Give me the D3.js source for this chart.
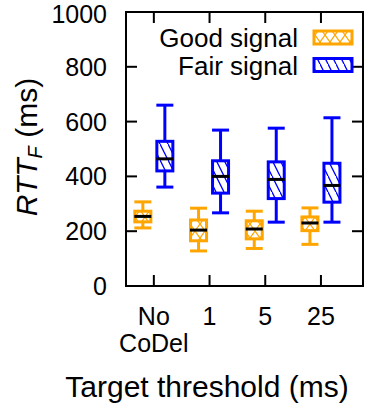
<!DOCTYPE html>
<html>
<head>
<meta charset="utf-8">
<script src="https://cdn.jsdelivr.net/npm/d3@7"></script>
<style>
  html, body { margin: 0; padding: 0; background: #fff; }
  svg { display: block; font-family: "Liberation Sans", Arial, Helvetica, sans-serif; }
</style>
</head>
<body>
<svg id="chart" width="365" height="410"></svg>
<script>
// Categories (CoDel target threshold) and box-plot statistics in ms
const categories = ["No CoDel", "1", "5", "25"];

const goodMin    = [212, 128, 137, 152];
const goodQ1     = [234, 165, 172, 202];
const goodMedian = [254, 204, 208, 230];
const goodQ3     = [273, 241, 238, 252];
const goodMax    = [307, 284, 273, 285];

const fairMin    = [361, 267, 233, 233];
const fairQ1     = [420, 339, 319, 306];
const fairMedian = [464, 400, 389, 367];
const fairQ3     = [528, 457, 453, 448];
const fairMax    = [660, 569, 576, 614];

const yTicks = [0, 200, 400, 600, 800, 1000];

const seriesNames = ["Good signal", "Fair signal"];
const seriesColors = ["#FFA500", "#0000FF"];

const svg = d3.select("#chart");
const plot = { left: 126, right: 363, top: 12, bottom: 286 };

const x = d3.scaleLinear().domain([-0.5, 3.755]).range([plot.left, plot.right]);
const y = d3.scaleLinear().domain([0, 1000]).range([plot.bottom, plot.top]);

// Fill patterns: crosshatch for good signal, back-diagonal hatch for fair signal
const defs = svg.append("defs");
const cross = defs.append("pattern")
  .attr("id", "pat-good").attr("patternUnits", "userSpaceOnUse")
  .attr("width", 10).attr("height", 14);
cross.append("rect").attr("width", 10).attr("height", 14).attr("fill", "#fff");
cross.append("path").attr("d", "M0,0L10,14M10,0L0,14")
  .attr("stroke", seriesColors[0]).attr("stroke-width", 1.3).attr("fill", "none");

const hatch = defs.append("pattern")
  .attr("id", "pat-fair").attr("patternUnits", "userSpaceOnUse")
  .attr("width", 8).attr("height", 16);
hatch.append("rect").attr("width", 8).attr("height", 16).attr("fill", "#fff");
hatch.append("path").attr("d", "M0,0L8,16M-4,8L0,16M4,-8L8,0")
  .attr("stroke", seriesColors[1]).attr("stroke-width", 1.3).attr("fill", "none");

const series = [
  { name: seriesNames[0], color: seriesColors[0], pat: "url(#pat-good)", offset: -11,
    min: goodMin, q1: goodQ1, med: goodMedian, q3: goodQ3, max: goodMax },
  { name: seriesNames[1], color: seriesColors[1], pat: "url(#pat-fair)", offset: 11,
    min: fairMin, q1: fairQ1, med: fairMedian, q3: fairQ3, max: fairMax }
];

const boxW = 16, capW = 17;

series.forEach(s => {
  const g = svg.append("g");
  categories.forEach((c, i) => {
    const cx = x(i) + s.offset;
    // whiskers: from box edges out to the extremes
    g.append("line").attr("x1", cx).attr("x2", cx).attr("y1", y(s.q3[i])).attr("y2", y(s.max[i]))
      .attr("stroke", s.color).attr("stroke-width", 3);
    g.append("line").attr("x1", cx).attr("x2", cx).attr("y1", y(s.q1[i])).attr("y2", y(s.min[i]))
      .attr("stroke", s.color).attr("stroke-width", 3);
    // whisker caps
    [s.max[i], s.min[i]].forEach(v => {
      g.append("line").attr("x1", cx - capW / 2).attr("x2", cx + capW / 2)
        .attr("y1", y(v)).attr("y2", y(v))
        .attr("stroke", s.color).attr("stroke-width", 3);
    });
    // interquartile box
    g.append("rect").attr("x", cx - boxW / 2).attr("y", y(s.q3[i]))
      .attr("width", boxW).attr("height", y(s.q1[i]) - y(s.q3[i]))
      .attr("fill", s.pat).attr("stroke", s.color).attr("stroke-width", 3);
    // median
    g.append("line").attr("x1", cx - capW / 2).attr("x2", cx + capW / 2)
      .attr("y1", y(s.med[i])).attr("y2", y(s.med[i]))
      .attr("stroke", "#000").attr("stroke-width", 3);
  });
});

// Frame
svg.append("rect").attr("x", plot.left).attr("y", plot.top)
  .attr("width", plot.right - plot.left).attr("height", plot.bottom - plot.top)
  .attr("fill", "none").attr("stroke", "#000").attr("stroke-width", 2);

// Inward ticks on all four sides
const tickLen = 11;
const ticks = svg.append("g").attr("stroke", "#000").attr("stroke-width", 2);
yTicks.forEach(v => {
  ticks.append("line").attr("x1", plot.left).attr("x2", plot.left + tickLen).attr("y1", y(v)).attr("y2", y(v));
  ticks.append("line").attr("x1", plot.right).attr("x2", plot.right - tickLen).attr("y1", y(v)).attr("y2", y(v));
});
categories.forEach((c, i) => {
  ticks.append("line").attr("x1", x(i)).attr("x2", x(i)).attr("y1", plot.bottom).attr("y2", plot.bottom - tickLen);
  ticks.append("line").attr("x1", x(i)).attr("x2", x(i)).attr("y1", plot.top).attr("y2", plot.top + tickLen);
});

// Y tick labels (topmost kept inside the canvas)
svg.append("g").selectAll("text").data(yTicks).join("text")
  .attr("x", 107).attr("y", d => Math.max(y(d) + 9, 23))
  .attr("text-anchor", "end").attr("font-size", 25).attr("fill", "#000")
  .text(d => d);

// X tick labels (multi-word labels wrap onto two lines)
const xl = svg.append("g").attr("font-size", 25).attr("text-anchor", "middle").attr("fill", "#000");
categories.forEach((c, i) => {
  const t = xl.append("text").attr("x", x(i)).attr("y", 325);
  c.split(" ").forEach((w, k) => {
    t.append("tspan").attr("x", x(i)).attr("dy", k === 0 ? 0 : 27).text(w);
  });
});

// Axis titles
svg.append("text").attr("x", 207).attr("y", 397).attr("text-anchor", "middle")
  .attr("font-size", 30).text("Target threshold (ms)");

const yt = svg.append("text").attr("transform", "translate(37,147) rotate(-90)")
  .attr("text-anchor", "middle").attr("font-size", 30);
yt.append("tspan").attr("font-style", "italic").text("RTT");
yt.append("tspan").attr("font-style", "italic").attr("font-size", 20).attr("dy", 5).text("F");
yt.append("tspan").attr("dy", -5).text(" (ms)");

// Legend
const legend = svg.append("g");
series.forEach((s, k) => {
  const cy = 37.5 + k * 27.5;
  legend.append("text").attr("x", 298).attr("y", cy + 9.5).attr("text-anchor", "end")
    .attr("font-size", 26).text(s.name);
  legend.append("rect").attr("x", 314).attr("y", cy - 6.5).attr("width", 38).attr("height", 13)
    .attr("fill", s.pat).attr("stroke", s.color).attr("stroke-width", 3);
});
</script>
</body>
</html>
